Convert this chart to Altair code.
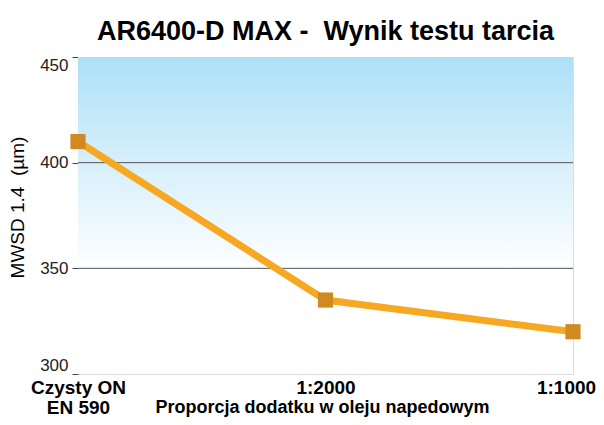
import altair as alt
import pandas as pd

categories = ["Czysty ON", "1:2000", "1:1000"]
values = [410, 335, 320]
grid_values = [350, 400]

df = pd.DataFrame({"kat": categories, "mwsd": values})
grid_df = pd.DataFrame({"g": grid_values})

FONT = "Liberation Sans"

x_enc = alt.X(
    "kat:N",
    sort=categories,
    scale=alt.Scale(type="point", padding=0),
    axis=alt.Axis(
        title="Proporcja dodatku w oleju napedowym",
        titleFontSize=18, titleFontWeight="bold", titleColor="black", titleFont=FONT,
        titleBaseline="middle", titleX=244, titleY=33,
        labelFontSize=19, labelFontWeight="bold", labelColor="black", labelFont=FONT,
        labelExpr="datum.label == 'Czysty ON' ? ['Czysty ON', 'EN 590'] : datum.label",
        labelLineHeight=20, labelPadding=4,
        labelOffset={"condition": {"test": "datum.value === '1:1000'", "value": -7}, "value": 0},
        labelAngle=0, ticks=False, domain=False, grid=False,
    ),
)
y_enc = alt.Y(
    "mwsd:Q",
    scale=alt.Scale(domain=[300, 450]),
    axis=alt.Axis(
        values=[300, 350, 400, 450],
        title="MWSD 1.4\u00a0\u00a0(µm)",
        titleFontSize=19, titleFontWeight="normal", titleColor="black", titleFont=FONT,
        titlePadding=12, titleY=150,
        labelFontSize=17, labelColor="#222", labelFont=FONT, labelPadding=4,
        labelFlush=True,
        tickSize=6, tickColor="#444", domain=False,
        grid=False,
    ),
)

bg = alt.Chart(df).mark_rect(
    fill=alt.Gradient(
        gradient="linear",
        stops=[
            alt.GradientStop(color="#ade0f7", offset=0),
            alt.GradientStop(color="#d6effb", offset=0.33),
            alt.GradientStop(color="#ffffff", offset=0.68),
            alt.GradientStop(color="#ffffff", offset=1),
        ],
        x1=0, x2=0, y1=0, y2=1,
    )
).encode(x=alt.value(0), x2=alt.value("width"), y=alt.value(0), y2=alt.value("height"))

grid = alt.Chart(grid_df).mark_rule(color="#555", strokeWidth=1).encode(
    y=alt.Y("g:Q", scale=alt.Scale(domain=[300, 450])),
    x=alt.value(0), x2=alt.value("width"),
)

line = alt.Chart(df).mark_line(color="#f7a823", strokeWidth=7).encode(x=x_enc, y=y_enc)
pts = alt.Chart(df).mark_point(
    shape="square", size=230, filled=True, color="#d08a20", opacity=1
).encode(x=x_enc, y=y_enc)

chart = alt.layer(bg, grid, line, pts).properties(
    width=495,
    height=317,
    autosize=alt.AutoSizeParams(type="none"),
    padding={"left": 70, "top": 49, "right": 23, "bottom": 43},
    title=alt.TitleParams(
        "AR6400-D MAX -\u00a0\u00a0Wynik testu tarcia",
        fontSize=27, fontWeight="bold", font=FONT, color="black",
        anchor="middle", offset=10,
    ),
).configure_view(stroke="#808080", strokeWidth=1.5).configure(background="white")

chart.save("out.html", embed_options={"renderer": "svg", "actions": False})
